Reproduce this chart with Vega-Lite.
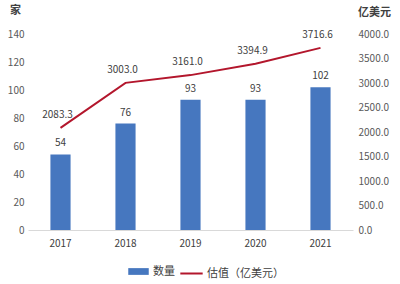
{
  "$schema": "https://vega.github.io/schema/vega-lite/v6.json",
  "autosize": {"type": "none"},
  "width": 325,
  "height": 196,
  "padding": {"left": 28, "top": 34, "right": 47, "bottom": 54},
  "background": "white",
  "config": {
    "view": {"stroke": null},
    "font": "Noto Sans CJK SC",
    "axis": {"labelFont": "Noto Sans CJK SC", "titleFont": "Noto Sans CJK SC", "labelColor": "#595959", "labelFontSize": 10, "grid": false, "ticks": false, "domain": false, "labelOverlap": false},
    "legend": {"labelFont": "Noto Sans CJK SC", "labelFontSize": 11, "labelColor": "#404040"}
  },
  "data": {
    "values": [
      {"year": "2017", "count": 54, "value": 2083.3},
      {"year": "2018", "count": 76, "value": 3003.0},
      {"year": "2019", "count": 93, "value": 3161.0},
      {"year": "2020", "count": 93, "value": 3394.9},
      {"year": "2021", "count": 102, "value": 3716.6}
    ]
  },
  "encoding": {
    "x": {
      "field": "year", "type": "ordinal",
      "scale": {"paddingInner": 0.69, "paddingOuter": 0.345},
      "axis": {"title": null, "labelAngle": 0, "domain": true, "domainColor": "#d9d9d9", "domainWidth": 1, "labelPadding": 8, "labelColor": "#404040"}
    }
  },
  "layer": [
    {
      "encoding": {
        "y": {
          "field": "count", "type": "quantitative",
          "scale": {"domain": [0, 140]},
          "axis": {"values": [0, 20, 40, 60, 80, 100, 120, 140], "labelOverlap": false, "title": "家", "titleAngle": 0, "titleAlign": "center", "titleBaseline": "middle", "titleX": -13, "titleY": -24, "titleFontSize": 11, "titleFontWeight": "bold", "titleColor": "#404040", "labelPadding": 4}
        }
      },
      "layer": [
        {
          "mark": {"type": "bar"},
          "encoding": {
            "fill": {"datum": "数量", "type": "nominal", "scale": {"range": ["#4677bf"]},
              "legend": {"title": null, "orient": "none", "legendX": 100, "legendY": 227, "symbolType": "M-1,-0.33H1V0.33H-1Z", "symbolSize": 420, "symbolStrokeWidth": 0, "labelOffset": 4}}
          }
        },
        {
          "mark": {"type": "text", "dy": -11, "fontSize": 10, "color": "#404040"},
          "encoding": {
            "text": {"field": "count", "type": "quantitative"}
          }
        }
      ]
    },
    {
      "encoding": {
        "y": {
          "field": "value", "type": "quantitative",
          "scale": {"domain": [0, 4000]},
          "axis": {"orient": "right", "values": [0, 500, 1000, 1500, 2000, 2500, 3000, 3500, 4000], "labelOverlap": false, "format": ".1f", "title": "亿美元", "titleAngle": 0, "titleAlign": "center", "titleBaseline": "middle", "titleX": 21, "titleY": -22, "titleFontSize": 11, "titleFontWeight": "bold", "titleColor": "#404040", "labelPadding": 5}
        }
      },
      "layer": [
        {
          "mark": {"type": "line", "strokeWidth": 2},
          "encoding": {
            "stroke": {"datum": "估值（亿美元）", "type": "nominal", "scale": {"range": ["#b3162c"]},
              "legend": {"title": null, "orient": "none", "legendX": 151, "legendY": 227, "symbolType": "stroke", "symbolSize": 500, "symbolStrokeWidth": 2, "labelOffset": 3}}
          }
        },
        {
          "mark": {"type": "text", "dy": -13, "dx": -3, "fontSize": 10, "color": "#404040"},
          "encoding": {
            "text": {"field": "value", "type": "quantitative", "format": ".1f"}
          }
        }
      ]
    }
  ],
  "resolve": {"scale": {"y": "independent"}}
}
